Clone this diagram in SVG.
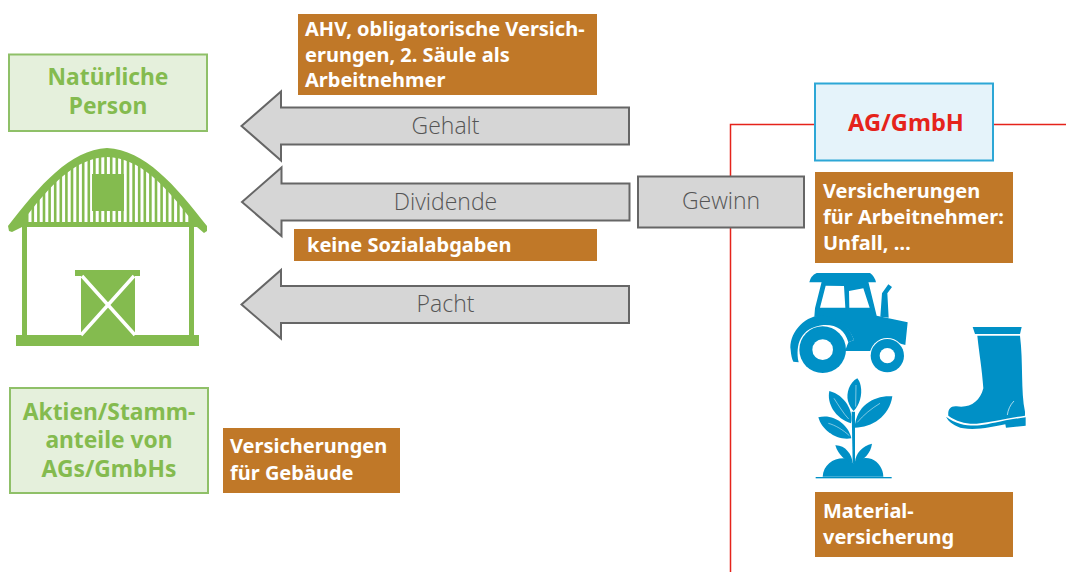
<svg xmlns="http://www.w3.org/2000/svg" width="1066" height="572" viewBox="0 0 1066 572">
<style>
text{font-family:"Noto Sans","Open Sans","Liberation Sans",sans-serif}
.br{fill:#C07828}
.bt{fill:#fff;font-size:20px;font-weight:700}
.gb{fill:#E5F0DC;stroke:#8FC068;stroke-width:2}
.gt{fill:#84BB4F;font-size:22.800px;font-weight:700;text-anchor:middle}
.ar{fill:#D6D6D6;stroke:#666;stroke-width:2}
.at{fill:#555;font-size:23px;font-weight:300;text-anchor:middle;font-family:"Open Sans","Noto Sans",sans-serif}
.bn{fill:#84BB4F}
.ic{fill:#0090C6}
.ln{fill:none;stroke:#fff}
</style>
<defs>
<clipPath id="roofIn"><path d="M22,222 C50,185 75,158 107,157 C140,158 165,185 193,222 Z"/></clipPath>
</defs>
<g id="connectors" fill="none" stroke="#E5231B" stroke-width="1.5">
<path d="M815,124.500 H730.500 V176"/>
<path d="M730.500,227 V572"/>
<path d="M993,124.500 H1066"/>
</g>
<g id="natuerliche-person"><rect class="gb" x="9" y="54.500" width="198" height="76.500"/>
<text class="gt" x="108" y="85">Natürliche</text><text class="gt" x="108" y="114">Person</text></g>
<g id="aktien"><rect class="gb" x="10" y="388" width="198" height="105"/>
<text class="gt" x="109" y="420">Aktien/Stamm-</text><text class="gt" x="109" y="448">anteile von</text><text class="gt" x="109" y="477">AGs/GmbHs</text></g>
<g id="barn">
<path class="bn" d="M8,226 C40,185 70,150 107,148 C145,150 175,185 207,226 L207,231 L204,233 L197,227 L22,227 L12,232 L9,231 Z"/>
<rect class="bn" x="20" y="157" width="176" height="70" clip-path="url(#roofIn)"/>
<path clip-path="url(#roofIn)" fill="none" stroke="#fff" stroke-width="3" d="M30,150V222M35.600,150V222M41.200,150V222M46.800,150V222M52.400,150V222M58,150V222M63.600,150V222M69.200,150V222M74.800,150V222M80.400,150V222M86,150V222M91.600,150V222M97.200,150V222M102.800,150V222M108.400,150V222M114,150V222M119.600,150V222M125.200,150V222M130.800,150V222M136.400,150V222M142,150V222M147.600,150V222M153.200,150V222M158.800,150V222M164.400,150V222M170,150V222M175.600,150V222M181.200,150V222M186.800,150V222"/>
<rect class="bn" x="92" y="174" width="32" height="37"/>
<rect class="bn" x="22" y="226" width="5" height="110"/>
<rect class="bn" x="189" y="226" width="5" height="110"/>
<rect class="bn" x="16" y="335" width="183" height="11"/>
<rect class="bn" x="75" y="270" width="65" height="6"/>
<rect class="bn" x="81" y="276" width="54" height="59"/>
<path d="M82,276 L135,335 M134,276 L81,335" fill="none" stroke="#fff" stroke-width="3.500"/>
</g>
<g id="gehalt"><path class="ar" d="M629,107.500 H281 V91.500 L241.500,126 L281,160.500 V144.500 H629 Z"/><text class="at" x="445.500" y="134">Gehalt</text></g>
<g id="dividende"><path class="ar" d="M629.500,183.500 H281.500 V167.500 L242,202 L281.500,236 V220.500 H629.500 Z"/><text class="at" x="445.500" y="210">Dividende</text></g>
<g id="pacht"><path class="ar" d="M629,286 H281 V270 L241.500,304.500 L281,338.500 V323 H629 Z"/><text class="at" x="445.500" y="312">Pacht</text></g>
<g id="gewinn"><rect class="ar" x="638" y="176.500" width="166" height="51"/><text class="at" x="721" y="209">Gewinn</text></g>
<g id="ag-gmbh"><rect x="815" y="83.500" width="178" height="77" fill="#E5F3FA" stroke="#2DA7D6" stroke-width="2"/>
<text x="906" y="130.500" fill="#E5231B" font-size="23.600" font-weight="700" text-anchor="middle">AG/GmbH</text></g>
<g id="box-ahv"><rect class="br" x="298" y="14" width="299" height="81"/>
<text class="bt" x="305" y="36">AHV, obligatorische Versich-</text><text class="bt" x="305" y="62">erungen, 2. Säule als</text><text class="bt" x="305" y="87">Arbeitnehmer</text></g>
<g id="box-sozial"><rect class="br" x="294" y="229" width="303" height="32"/><text class="bt" x="307" y="252">keine Sozialabgaben</text></g>
<g id="box-gebaeude"><rect class="br" x="223" y="428" width="177" height="65"/><text class="bt" x="230" y="453">Versicherungen</text><text class="bt" x="230" y="480">für Gebäude</text></g>
<g id="box-arbeitnehmer"><rect class="br" x="815" y="172" width="198" height="91"/><text class="bt" x="823" y="198">Versicherungen</text><text class="bt" x="823" y="224">für Arbeitnehmer:</text><text class="bt" x="823" y="250">Unfall, …</text></g>
<g id="box-material"><rect class="br" x="815" y="492" width="198" height="65"/><text class="bt" x="823" y="518">Material-</text><text class="bt" x="823" y="544">versicherung</text></g>
<g id="tractor" transform="translate(780,265) scale(.33333)">
<path class="ic" d="M88,52 Q92,32 110,24 L270,24 Q284,34 288,52 Z"/>
<path class="ic" fill-rule="evenodd" d="M125,50 L265,50 L290,152 L383,172 L376,240 L320,225 L270,258 L195,258 L205,232 L222,225 C205,180 170,157 103,155 L105,130 Z M137,62 L192,63 L196,128 L120,128 Z M207,78 L250,70 L269,128 L208,128 Z"/>
<path class="ic" d="M301,155 L306,85 L325,58 L336,66 L322,85 L326,158 Z"/>
<path class="ic" d="M40,290 L56,292 C46,240 60,188 130,180 C170,178 195,195 205,232 L222,225 C205,175 170,155 125,152 C70,150 25,210 32,255 C33,270 36,283 40,290 Z"/>
<circle class="ic" cx="128" cy="254" r="70"/><circle cx="128" cy="254" r="31" fill="#fff"/>
<circle cx="322" cy="272" r="53" fill="#fff"/><circle class="ic" cx="322" cy="272" r="50"/><circle cx="322" cy="272" r="23" fill="#fff"/>
</g>
<g id="boot" transform="translate(780,265) scale(.33333)">
<path class="ic" d="M578,186 L725,186 L720,207 L585,207 Z"/>
<path class="ic" d="M592,212 L720,212 C730,290 722,380 735,440 L735,452 C690,458 640,470 590,476 C560,478 530,470 505,452 C503,435 510,422 530,424 C570,430 600,410 610,370 C606,310 598,270 592,212 Z"/>
<path class="ic" d="M498,455 C530,480 570,484 600,481 C630,478 670,465 737,457 L737,482 L678,488 L676,478 C640,485 590,497 550,490 C525,485 505,470 498,455 Z"/>
<path class="ln" stroke-width="2" d="M702,408 C690,420 684,435 682,450"/>
</g>
<g id="plant" transform="translate(780,265) scale(.33333)">
<path class="ic" d="M128,635 C130,600 160,578 195,580 C205,582 215,592 220,595 C235,580 255,575 275,582 C295,590 310,612 310,635 Z"/>
<rect class="ic" x="107" y="636" width="228" height="4"/>
<path class="ic" d="M215,440 L225,440 L225,595 L218,595 Z"/>
<path class="ic" d="M232,340 C208,352 198,385 204,408 C208,422 215,432 221,438 C238,420 248,390 242,362 C240,352 236,345 232,340 Z"/>
<path class="ic" d="M148,378 C140,415 165,460 213,475 C222,440 195,390 148,378 Z"/>
<path class="ic" d="M337,394 C285,390 228,420 224,488 C275,488 328,455 337,394 Z"/>
<path class="ic" d="M115,457 C125,495 170,528 214,520 C205,478 160,445 115,457 Z"/>
<path class="ic" d="M166,541 C175,572 198,588 218,594 C216,568 195,540 166,541 Z"/>
<path class="ic" d="M276,536 C248,542 226,565 225,592 C252,586 272,565 276,536 Z"/>
<path class="ln" stroke-width="1.500" d="M228,360 L227,425 M162,400 C175,420 190,445 206,462 M300,415 C275,430 250,450 232,472 M145,475 C165,480 190,495 208,512"/>
</g>
</svg>
